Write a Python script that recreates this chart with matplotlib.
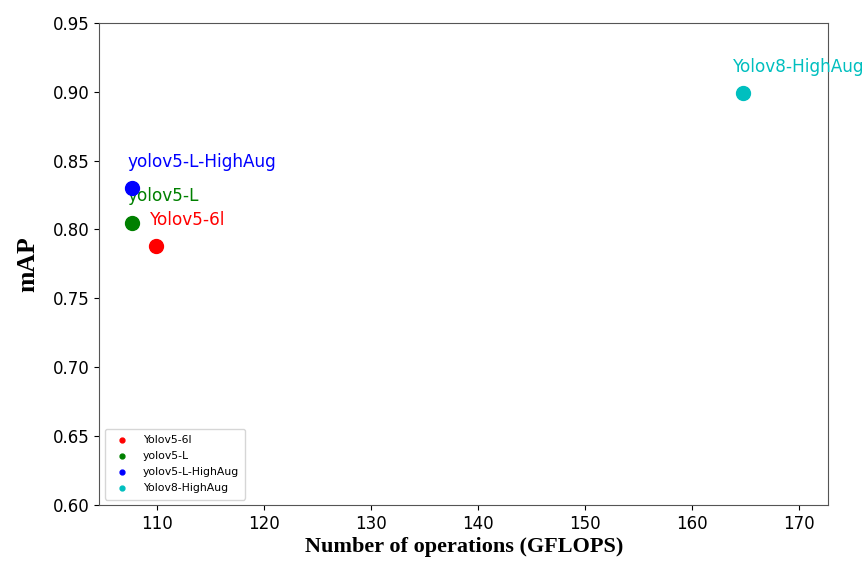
import matplotlib
matplotlib.use("Agg")
import matplotlib.pyplot as plt

plt.rcParams["font.family"] = ["DejaVu Sans"]

models = ["Yolov5-6l", "yolov5-L", "yolov5-L-HighAug", "Yolov8-HighAug"]
gflops = [109.93, 107.72, 107.72, 164.8]
mAP = [0.788, 0.805, 0.830, 0.899]
colors = ["red", "green", "blue", "c"]

# label offsets (layout only)
label_dx = [-0.56, -0.45, -0.45, -0.9]
label_dy = 0.0155

fig = plt.figure(figsize=(8.68, 5.65), dpi=100)
ax = fig.add_axes([0.1144, 0.1062, 0.9543 - 0.1144, 0.9598 - 0.1062])

for name, x, y, c, dx in zip(models, gflops, mAP, colors, label_dx):
    ax.scatter(x, y, s=100, color=c, label=name, zorder=3)
    ax.text(x + dx, y + label_dy, name, color=c, fontsize=12.2)

ax.set_xlim(104.64, 172.77)
ax.set_ylim(0.60, 0.95)
ax.set_xticks([110, 120, 130, 140, 150, 160, 170])
ax.set_yticks([0.60, 0.65, 0.70, 0.75, 0.80, 0.85, 0.90, 0.95])
ax.tick_params(labelsize=12)
for sp in ax.spines.values():
    sp.set_color("#555555")

ax.set_xlabel("Number of operations (GFLOPS)", fontsize=16, fontweight="bold",
              family="Liberation Serif", labelpad=3)
ax.set_ylabel("mAP", fontsize=18.5, fontweight="bold", family="Liberation Serif", labelpad=10)

ax.legend(loc="lower left", fontsize=7.8, markerscale=0.35, borderpad=0.6,
          handletextpad=0.9, labelspacing=0.55)

fig.savefig("out.png", dpi=100)
